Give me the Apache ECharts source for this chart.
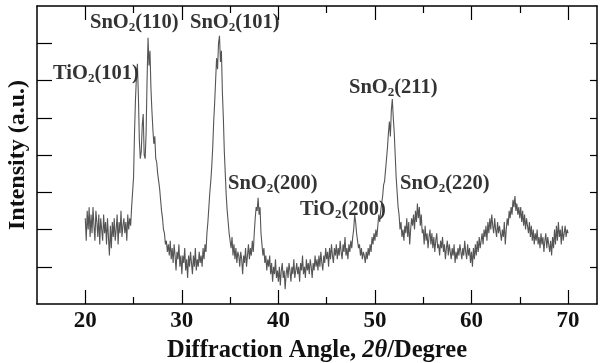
<!DOCTYPE html>
<html>
<head>
<meta charset="utf-8">
<script src="https://cdn.jsdelivr.net/npm/echarts@6/dist/echarts.min.js"></script>
<style>html,body{margin:0;padding:0;background:#fff}#c{width:602px;height:363px}</style>
</head>
<body>
<div id="c"></div>
<script>
// Sampling grid of the scan (degrees 2θ)
var startAngle = 20.0;
var stepAngle = 0.1;
// Intensity (a.u., axis tick units), one value per 0.1°, 20.0° … 70.0°
var intensity = [
 2.3,1.7,2.5,2.0,2.6,1.8,2.4,1.9,2.6,2.1,
 1.7,2.5,2.2,1.8,2.4,1.6,2.3,2.0,1.7,2.4,
 1.9,2.2,1.6,2.3,1.8,1.3,2.1,1.5,2.2,1.8,
 2.3,1.7,2.0,2.4,1.6,2.2,1.9,2.5,1.8,2.1,
 2.3,1.9,2.2,1.7,2.4,2.0,2.3,2.1,2.6,3.0,
 3.4,4.6,5.5,6.1,6.45,5.6,4.4,3.9,4.1,4.8,
 5.1,4.0,3.9,4.6,6.0,7.15,6.4,6.8,5.8,5.2,
 4.7,4.3,4.5,3.9,3.8,3.5,3.3,3.1,2.8,2.5,
 2.3,2.0,1.9,1.6,1.7,1.4,1.6,1.3,1.7,1.2,
 1.5,1.1,1.6,1.3,0.9,1.4,1.2,1.6,1.0,1.3,
 0.8,1.3,1.1,1.5,0.9,1.2,0.7,1.3,1.0,1.4,
 1.1,0.8,1.3,1.0,1.5,0.9,1.2,1.0,1.4,1.1,
 1.3,1.0,1.5,1.2,1.6,1.4,1.9,2.2,2.6,3.0,
 3.3,3.7,4.2,4.9,5.4,6.0,6.6,6.3,7.0,7.2,
 6.5,6.8,5.7,5.0,4.1,3.5,2.9,2.5,2.2,1.9,
 1.7,1.5,1.8,1.3,1.6,1.2,1.5,1.1,1.4,1.3,
 1.0,1.4,1.2,0.8,1.3,1.1,1.5,1.0,1.3,1.6,
 1.2,1.5,1.3,1.7,1.4,1.9,2.3,2.6,2.5,2.85,
 2.4,2.6,1.9,1.6,1.3,1.5,1.1,1.3,0.9,1.2,
 1.0,1.3,0.8,1.1,0.6,1.0,0.8,1.2,0.7,0.9,
 0.6,1.0,0.5,0.9,1.1,0.7,0.9,0.4,0.8,1.0,
 0.7,1.1,0.9,0.6,1.0,0.8,1.2,0.7,0.9,1.1,
 0.8,1.0,0.6,1.1,0.9,1.3,0.8,1.0,0.7,1.2,
 0.9,1.1,0.8,1.2,1.0,0.7,1.1,0.9,1.3,1.0,
 1.2,0.9,1.3,1.0,1.4,1.1,0.9,1.3,1.1,1.5,
 1.2,1.4,1.0,1.5,1.2,1.6,1.3,1.1,1.5,1.3,
 1.6,1.2,1.5,1.3,1.7,1.4,1.2,1.6,1.4,1.8,
 1.3,1.5,1.2,1.6,1.4,1.7,1.5,1.8,2.0,2.4,
 2.2,1.9,1.7,1.5,1.6,1.3,1.5,1.2,1.4,1.3,
 1.1,1.4,1.2,1.5,1.3,1.6,1.4,1.8,1.6,1.9,
 1.7,2.0,1.8,2.1,2.4,2.2,2.5,2.7,2.9,3.2,
 3.3,3.6,3.9,4.2,4.6,4.9,4.5,5.2,5.5,5.0,
 4.6,4.0,3.4,3.0,2.6,2.4,2.0,2.2,1.8,2.0,
 1.7,2.1,1.9,2.3,1.8,2.2,1.6,2.0,2.3,2.1,
 2.4,2.0,2.5,2.2,2.7,2.3,2.6,2.1,2.4,1.9,
 2.0,1.6,2.1,1.7,1.9,1.5,1.8,2.0,1.6,1.9,
 1.5,1.8,1.4,1.7,1.9,1.5,1.6,1.3,1.7,1.5,
 1.8,1.4,1.6,1.2,1.5,1.7,1.3,1.6,1.4,1.2,
 1.5,1.3,1.6,1.1,1.4,1.2,1.5,1.3,1.6,1.4,
 1.2,1.5,1.3,1.7,1.4,1.2,1.6,1.3,1.5,1.1,
 1.4,1.0,1.5,1.2,1.6,1.3,1.7,1.4,1.8,1.5,
 1.7,1.9,1.6,2.0,1.8,2.1,1.7,2.2,1.9,2.3,
 2.0,2.4,2.1,1.9,2.3,2.0,1.8,2.2,1.9,2.1,
 1.9,1.7,2.0,1.8,2.2,1.6,2.0,2.3,2.1,2.5,
 2.3,2.6,2.4,2.8,2.6,2.9,2.5,2.7,2.4,2.6,
 2.3,2.6,2.2,2.5,2.1,2.4,2.0,2.3,2.1,1.9,
 2.2,1.8,2.1,1.7,2.0,1.6,1.9,1.7,2.0,1.6,
 1.8,1.5,1.9,1.6,1.8,1.4,1.7,1.9,1.5,1.8,
 1.6,1.4,1.7,1.3,1.8,1.5,2.0,1.6,2.1,1.7,
 2.2,1.8,2.0,1.6,2.1,1.7,1.9,2.1,1.8,2.0,
 1.9
];
// Tick labels
var xMajorTicks = [20, 30, 40, 50, 60, 70];
var xMinorTicks = [25, 35, 45, 55, 65];
var yTicks = [1, 2, 3, 4, 5, 6, 7];
// Peak annotations: [phase, hkl]
var peakPhases = ['TiO', 'SnO', 'SnO', 'SnO', 'TiO', 'SnO', 'SnO'];
var peakHkl = ['(101)', '(110)', '(101)', '(200)', '(200)', '(211)', '(220)'];

var FONT = '"Liberation Serif", "DejaVu Serif", serif';
var points = intensity.map(function (v, i) {
  return [Math.round((startAngle + i * stepAngle) * 10) / 10, v];
});

var labelPos = [[53, 74], [90, 23], [190, 23], [228, 184], [300, 210], [349, 88], [400, 184]];
var graphics = peakPhases.map(function (p, i) {
  return {
    type: 'text', x: labelPos[i][0], y: labelPos[i][1], z: 100,
    style: {
      text: '{a|' + p + '}{s|2}{a|' + peakHkl[i] + '}',
      align: 'left', verticalAlign: 'middle',
      rich: {
        a: { fontFamily: FONT, fontWeight: 'bold', fontSize: 20.5, fill: '#333', lineHeight: 22 },
        s: { fontFamily: FONT, fontWeight: 'bold', fontSize: 13, fill: '#333', padding: [10, 0, 0, 0], lineHeight: 13 }
      }
    }
  };
});

function xAx(pos, ticks, len, showLine, labels) {
  return {
    type: 'value', position: pos, min: 15, max: 73,
    axisLine: { show: showLine, onZero: false, lineStyle: { color: '#000', width: 1.5 } },
    axisTick: { show: true, inside: true, length: len, customValues: ticks, lineStyle: { color: '#000', width: 1.2 } },
    axisLabel: labels ? { show: true, customValues: xMajorTicks, margin: 6, fontFamily: FONT, fontWeight: 'bold', fontSize: 23, color: '#111' } : { show: false },
    splitLine: { show: false }
  };
}
var xa0 = xAx('bottom', xMajorTicks, 14, true, true);
xa0.name = '{b|Diffraction Angle, }{i|2θ}{b|/Degree}';
xa0.nameLocation = 'middle';
xa0.nameGap = 29;
xa0.nameTextStyle = {
  rich: {
    b: { fontFamily: FONT, fontWeight: 'bold', fontSize: 24.5, lineHeight: 25, color: '#111' },
    i: { fontFamily: FONT, fontWeight: 'bold', fontStyle: 'italic', fontSize: 24.5, lineHeight: 25, color: '#111' }
  }
};

var chart = echarts.init(document.getElementById('c'), null, { renderer: 'canvas' });
chart.setOption({
  animation: false,
  backgroundColor: '#fff',
  grid: { left: 37, right: 5, top: 6, bottom: 59, containLabel: false, outerBoundsMode: 'none' },
  xAxis: [
    xa0,
    xAx('bottom', xMinorTicks, 7, false, false),
    xAx('top', xMajorTicks, 14, true, false),
    xAx('top', xMinorTicks, 7, false, false)
  ],
  yAxis: [
    {
      type: 'value', position: 'left', min: 0, max: 8, interval: 1,
      name: 'Intensity (a.u.)', nameLocation: 'middle', nameGap: 7,
      nameTextStyle: { fontFamily: FONT, fontWeight: 'bold', fontSize: 24, color: '#111' },
      axisLine: { show: true, onZero: false, lineStyle: { color: '#000', width: 1.5 } },
      axisTick: { show: true, inside: true, length: 15, customValues: yTicks, lineStyle: { color: '#000', width: 1.2 } },
      axisLabel: { show: false }, splitLine: { show: false }
    },
    {
      type: 'value', position: 'right', min: 0, max: 8, interval: 1,
      axisLine: { show: true, onZero: false, lineStyle: { color: '#000', width: 1.5 } },
      axisTick: { show: true, inside: true, length: 7, customValues: yTicks, lineStyle: { color: '#000', width: 1.2 } },
      axisLabel: { show: false }, splitLine: { show: false }
    }
  ],
  graphic: graphics,
  series: [{
    type: 'line', xAxisIndex: 0, yAxisIndex: 0, data: points,
    showSymbol: false, symbol: 'none', smooth: false,
    lineStyle: { color: '#555', width: 1.1 }
  }]
});
</script>
</body>
</html>
